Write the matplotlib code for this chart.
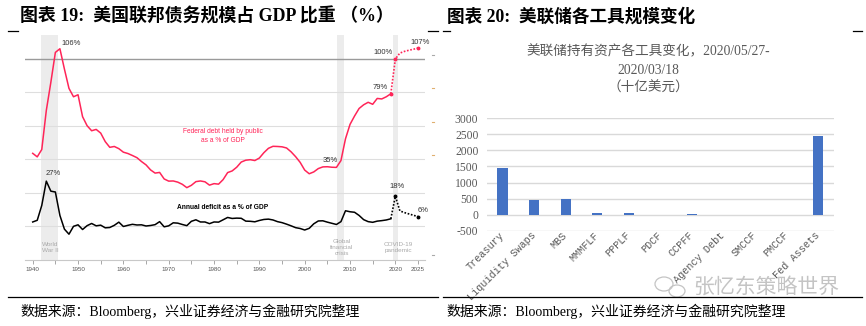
import matplotlib
matplotlib.use("Agg")
import matplotlib.pyplot as plt
from matplotlib.lines import Line2D
from matplotlib.patches import Ellipse
import logging
logging.getLogger('matplotlib.font_manager').setLevel(logging.ERROR)

# ---------------- data : left chart ----------------
years_hist = list(range(1940, 2020))
debt_hist = [43.6, 41.5, 45.9, 69.2, 86.0, 103.9, 106.1, 93.9, 82.4, 77.4,
             78.6, 65.5, 60.1, 57.1, 57.9, 55.7, 50.6, 47.2, 47.7, 46.4,
             44.3, 43.5, 42.3, 41.0, 38.7, 36.7, 33.7, 31.8, 32.2, 28.3,
             27.0, 27.1, 26.4, 25.1, 23.1, 24.5, 26.7, 27.1, 26.6, 24.6,
             25.5, 25.2, 27.9, 32.1, 33.1, 35.3, 38.4, 39.5, 39.8, 39.3,
             40.8, 44.0, 46.6, 47.8, 47.7, 47.5, 46.8, 44.5, 41.6, 38.2,
             33.6, 31.4, 32.5, 34.5, 35.5, 35.6, 35.3, 35.2, 39.3, 52.3,
             60.9, 65.9, 70.4, 72.6, 74.1, 72.9, 76.4, 76.1, 77.4, 79.2]
deficit_hist = [2.6, 3.6, 12.5, 27.0, 21.0, 20.5, 6.5, -1.7, -4.7, 0.0,
                0.9, -1.9, 0.4, 1.7, 0.3, 0.7, -0.9, -0.7, 0.6, 2.5,
                -0.1, 0.6, 1.2, 0.8, 0.9, 0.2, 0.5, 1.0, 2.8, -0.3,
                0.3, 2.1, 1.9, 1.1, 0.4, 3.0, 3.9, 2.6, 2.6, 1.6,
                2.6, 2.5, 3.9, 5.3, 4.7, 4.9, 4.8, 3.1, 3.0, 2.7,
                3.5, 4.1, 4.3, 3.8, 2.8, 2.2, 1.3, 0.3, -0.8, -1.3,
                -2.2, -1.2, 1.5, 3.2, 3.3, 2.5, 1.8, 1.1, 2.8, 9.3,
                8.7, 8.4, 6.5, 4.0, 2.8, 2.4, 3.1, 3.4, 3.8, 4.5]
years_proj = [2019, 2020, 2021, 2022, 2023, 2024, 2025]
debt_proj = [79.2, 100.0, 103.5, 104.5, 105.2, 105.8, 106.5]
deficit_proj = [4.5, 18.0, 9.2, 8.2, 7.4, 6.6, 5.8]
shade_periods = [(1941.8, 1945.5), (2007.1, 2008.6), (2019.5, 2020.6)]
shade_labels = ["World\nWar II", "Global\nfinancial\ncrisis", "COVID-19\npandemic"]
shade_label_x = [1943.8, 2008.2, 2020.6]
xtick_years = list(range(1940, 2026, 5))
xtick_labels = [str(y) if (y % 10 == 0 or y == 2025) else "" for y in xtick_years]

# ---------------- data : right chart ----------------
tools = ["Treasury", "Liquidity Swaps", "MBS", "MMMFLF", "PPPLF", "PDCF",
         "CCPFF", "Agency Debt", "SMCCF", "PMCCF", "Fed Assets"]
changes = [1465, 448, 482, 38, 58, 2, 6, 0, 1, 0, 2435]
yticks_r = [-500, 0, 500, 1000, 1500, 2000, 2500, 3000]

W, H = 866, 326
fig = plt.figure(figsize=(W / 100, H / 100), dpi=100)
fig.patch.set_facecolor("white")

def fx(x):
    return x / W

def fy(y):
    return 1 - y / H

CJK_SERIF = ["Liberation Serif", "Noto Sans CJK SC"]
SANS_N = ["Liberation Sans Narrow", "Liberation Sans", "DejaVu Sans"]

# ---------------- left chart ----------------
ax1 = fig.add_axes([fx(25), fy(259.8), 400 / W, (259.8 - 35) / H])
ax1.set_xlim(1938.3, 2026.54)
ax1.set_ylim(-20, 114.3)
for s in ax1.spines.values():
    s.set_visible(False)
ax1.spines["bottom"].set_visible(True)
ax1.spines["bottom"].set_color("#c8c8c8")
ax1.spines["bottom"].set_linewidth(0.8)

for (a, b) in shade_periods:
    ax1.axvspan(a, b, color="#ececec", zorder=0, lw=0)
for v in [0, 20, 40, 60, 80]:
    ax1.axhline(v, color="#dedede", lw=0.8, zorder=1)
ax1.axhline(100, color="#9a9a9a", lw=1.0, zorder=1)

ax1.set_yticks([])
ax1.set_xticks(xtick_years)
ax1.set_xticklabels(xtick_labels, fontsize=4.5, color="#555555", family=SANS_N)
ax1.tick_params(axis="x", length=3, width=0.6, color="#999999", pad=2)

red = "#ff2558"
ax1.plot(years_hist, debt_hist, color=red, lw=1.1, zorder=3, solid_joinstyle="round")
ax1.plot(years_proj, debt_proj, color=red, lw=1.2, ls=(0, (1, 1)), zorder=3)
ax1.plot([years_proj[0], years_proj[1], years_proj[-1]],
         [debt_proj[0], debt_proj[1], debt_proj[-1]], "o", color=red, ms=1.8, zorder=4)

ax1.plot(years_hist, deficit_hist, color="black", lw=1.1, zorder=3, solid_joinstyle="round")
ax1.plot(years_proj, deficit_proj, color="black", lw=1.2, ls=(0, (1, 1)), zorder=3)
ax1.plot([years_proj[1], years_proj[-1]], [deficit_proj[1], deficit_proj[-1]],
         "o", color="black", ms=1.8, zorder=4)

lab_kw = dict(textcoords="offset points", fontsize=5.5, color="#333333",
              family=SANS_N, va="center")
ax1.annotate("106%", (1946, debt_hist[6]), xytext=(1.3, 3.5), ha="left", **lab_kw)
ax1.annotate("100%", (2020, debt_proj[1]), xytext=(-1.7, 4.5), ha="right", **lab_kw)
ax1.annotate("107%", (2025, debt_proj[-1]), xytext=(1.4, 3.9), ha="center", **lab_kw)
ax1.annotate("79%", (2019, debt_hist[-1]), xytext=(-2, 4.4), ha="right", **lab_kw)
ax1.annotate("35%", (2007, debt_hist[67]), xytext=(-4.5, 5.3), ha="center", **lab_kw)
ax1.annotate("27%", (1943, deficit_hist[3]), xytext=(5, 5.6), ha="center", **lab_kw)
ax1.annotate("18%", (2020, deficit_proj[1]), xytext=(1, 6.8), ha="center", **lab_kw)
ax1.annotate("6%", (2025, deficit_proj[-1]), xytext=(3.4, 4.7), ha="center", **lab_kw)

ax1.text(1982, 54, "Federal debt held by public\nas a % of GDP", color=red,
         fontsize=4.8, ha="center", va="center", family=SANS_N, linespacing=1.3)
ax1.text(1982, 11.2, "Annual deficit as a % of GDP", color="black", fontsize=4.8,
         fontweight="bold", ha="center", va="center", family=SANS_N)
for lx, lt in zip(shade_label_x, shade_labels):
    ax1.text(lx, -12.5, lt, color="#aaaaaa", fontsize=4.6, ha="center",
             va="center", family=SANS_N, linespacing=1.25)

# faint truncated right-axis marks
for yy, cc in [(55, "#aaaaaa"), (88, "#e0b070"), (122, "#e0b070"), (155, "#e0b070"),
               (255, "#aaaaaa")]:
    fig.add_artist(Line2D([fx(432), fx(434)], [fy(yy), fy(yy)], color=cc, lw=0.8))

# ---------------- right chart ----------------
ax2 = fig.add_axes([fx(486.7), fy(230.7), 347.3 / W, (230.7 - 118.3) / H])
ax2.set_xlim(-0.5, len(tools) - 0.5)
ax2.set_ylim(-500, 3000)
for s in ax2.spines.values():
    s.set_visible(False)
for v in yticks_r:
    ax2.axhline(v, color="#d9d9d9", lw=1.0, zorder=0)
ax2.bar(range(len(tools)), changes, width=0.32, color="#4472c4", zorder=2)
ax2.set_yticks(yticks_r)
ax2.set_yticklabels([str(v) for v in yticks_r], fontsize=8.4, color="#595959",
                    family="Liberation Serif")
ax2.set_xticks(range(len(tools)))
ax2.set_xticklabels(tools, rotation=45, ha="right", va="center", rotation_mode="anchor",
                    fontsize=7.3, color="#595959", family="Liberation Mono")
ax2.tick_params(axis="both", length=0)
ax2.tick_params(axis="y", pad=6)
ax2.tick_params(axis="x", pad=2)

fig.text(fx(648.3), fy(51.7), "美联储持有资产各工具变化，2020/05/27-", fontsize=9.8,
         color="#595959", ha="center", va="center", family=CJK_SERIF)
fig.text(fx(648.3), fy(70), "2020/03/18", fontsize=9.8,
         color="#595959", ha="center", va="center", family=CJK_SERIF)
fig.text(fx(648.3), fy(88.3), "（十亿美元）", fontsize=9.8,
         color="#595959", ha="center", va="center", family=CJK_SERIF)

# ---------------- titles, rules, sources ----------------
fig.text(fx(20), fy(17), "图表 19:  美国联邦债务规模占 GDP 比重 （%）", fontsize=12.9,
         fontweight="bold", ha="left", va="center", family=CJK_SERIF)
fig.text(fx(446.7), fy(17), "图表 20:  美联储各工具规模变化", fontsize=12.7,
         fontweight="bold", ha="left", va="center", family=CJK_SERIF)
for (a, b) in [(8, 18), (428, 438), (443, 450), (853, 862)]:
    fig.add_artist(Line2D([fx(a), fx(b)], [fy(31), fy(31)], color="black", lw=0.9))
for (a, b) in [(8, 438), (443, 862)]:
    fig.add_artist(Line2D([fx(a), fx(b)], [fy(297.3), fy(297.3)], color="black", lw=0.9))
src = "数据来源：Bloomberg，兴业证券经济与金融研究院整理"
fig.text(fx(20), fy(311), src, fontsize=10, ha="left", va="center", family=CJK_SERIF)
fig.text(fx(446), fy(311), src, fontsize=10, ha="left", va="center", family=CJK_SERIF)

# watermark
fig.text(fx(693), fy(287), "张忆东策略世界", fontsize=15, color="#c4c4c4",
         ha="left", va="center", family=["Noto Sans CJK SC"])
fig.add_artist(Ellipse((fx(664), fy(284)), 18 / W, 14 / H, fill=False,
                       ec="#c4c4c4", lw=0.9))
fig.add_artist(Ellipse((fx(677), fy(291)), 16 / W, 12 / H, fill=False,
                       ec="#c4c4c4", lw=0.9, fc="white"))

fig.savefig("out.png", dpi=100)
